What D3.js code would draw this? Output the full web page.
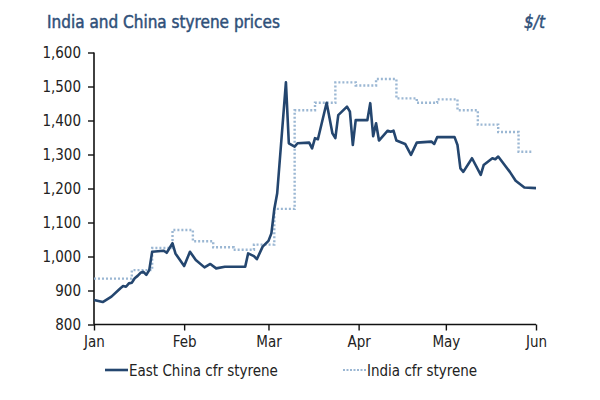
<!DOCTYPE html>
<html>
<head>
<meta charset="utf-8">
<script src="https://cdn.jsdelivr.net/npm/d3@7"></script>
<style>
  body { margin: 0; background: #fff; }
  text { font-family: "DejaVu Sans Condensed", "DejaVu Sans", sans-serif; }
</style>
</head>
<body>
<div id="chart"></div>
<script>
// East China cfr styrene, $/t
var chinaDates = ["2020-01-01","2020-01-04","2020-01-07","2020-01-10","2020-01-11","2020-01-12",
  "2020-01-13","2020-01-14","2020-01-15","2020-01-16","2020-01-17","2020-01-18","2020-01-19",
  "2020-01-20","2020-01-21","2020-01-25","2020-01-26","2020-01-28","2020-01-29","2020-02-01",
  "2020-02-03","2020-02-05","2020-02-08","2020-02-10","2020-02-12","2020-02-15","2020-02-22",
  "2020-02-23","2020-02-25","2020-02-26","2020-02-28","2020-03-01","2020-03-02","2020-03-03",
  "2020-03-04","2020-03-07","2020-03-08","2020-03-10","2020-03-11","2020-03-15","2020-03-16",
  "2020-03-17","2020-03-18","2020-03-21","2020-03-23","2020-03-24","2020-03-25","2020-03-28",
  "2020-03-29","2020-03-30","2020-03-31","2020-04-04","2020-04-05","2020-04-06","2020-04-07",
  "2020-04-08","2020-04-11","2020-04-12","2020-04-13","2020-04-14","2020-04-17","2020-04-19",
  "2020-04-21","2020-04-26","2020-04-27","2020-04-28","2020-05-04","2020-05-05","2020-05-06",
  "2020-05-07","2020-05-10","2020-05-13","2020-05-14","2020-05-17","2020-05-18","2020-05-19",
  "2020-05-23","2020-05-25","2020-05-28","2020-06-01"];
var chinaValues = [872, 866, 882, 906, 913, 911,
  921, 923, 936, 943, 952, 955, 946,
  960, 1014, 1017, 1011, 1039, 1009, 972,
  1014, 990, 968, 978, 965, 970, 970,
  1009, 1001, 992, 1029, 1046, 1068, 1139,
  1186, 1512, 1333, 1323, 1333, 1335, 1318,
  1348, 1345, 1452, 1362, 1348, 1416, 1441,
  1426, 1328, 1401, 1401, 1451, 1354, 1392,
  1341, 1370, 1367, 1370, 1341, 1331, 1299,
  1335, 1338, 1331, 1351, 1351, 1328, 1259,
  1249, 1289, 1240, 1269, 1289, 1286, 1294,
  1249, 1223, 1203, 1201];

// India cfr styrene, weekly assessments, $/t
var indiaDates = ["2020-01-01","2020-01-14","2020-01-21","2020-01-28","2020-02-04","2020-02-11",
  "2020-02-18","2020-02-25","2020-03-03","2020-03-10","2020-03-17","2020-03-24","2020-03-31",
  "2020-04-07","2020-04-14","2020-04-21","2020-04-28","2020-05-05","2020-05-12","2020-05-19",
  "2020-05-26","2020-05-31"];
var indiaValues = [935, 960, 1025, 1078, 1045, 1027,
  1020, 1035, 1140, 1430, 1452, 1512, 1503,
  1522, 1465, 1452, 1462, 1430, 1388, 1366,
  1308, 1308];

var yTicks = [800, 900, 1000, 1100, 1200, 1300, 1400, 1500, 1600];
var monthTicks = ["2020-01-01","2020-02-01","2020-03-01","2020-04-01","2020-05-01","2020-06-01"];
var seriesNames = ["East China cfr styrene", "India cfr styrene"];

var width = 600, height = 400;
var parse = d3.timeParse("%Y-%m-%d");

var svg = d3.select("#chart").append("svg")
  .attr("width", width)
  .attr("height", height);

var scX = d3.scaleTime()
  .domain([parse("2020-01-01"), parse("2020-06-01")])
  .range([94, 536]);
var scY = d3.scaleLinear()
  .domain([800, 1600])
  .range([324.5, 52.5]);

var china = chinaDates.map((d, i) => ({ date: parse(d), value: chinaValues[i] }));
var india = indiaDates.map((d, i) => ({ date: parse(d), value: indiaValues[i] }));

// title
svg.append("text")
  .attr("x", 47).attr("y", 28)
  .attr("font-size", 17)
  .attr("fill", "#2f5079").attr("stroke", "#2f5079").attr("stroke-width", 0.45)
  .text("India and China styrene prices");
svg.append("text")
  .attr("x", 545).attr("y", 28)
  .attr("text-anchor", "end")
  .attr("font-size", 17).attr("font-style", "italic")
  .attr("fill", "#2f5079").attr("stroke", "#2f5079").attr("stroke-width", 0.45)
  .text("$/t");

// axes
var yAxis = svg.append("g")
  .attr("transform", "translate(94,0)")
  .call(d3.axisLeft(scY).tickValues(yTicks).tickFormat(d3.format(",")).tickSize(6).tickPadding(7));
var xAxis = svg.append("g")
  .attr("transform", "translate(0,324.5)")
  .call(d3.axisBottom(scX).tickValues(monthTicks.map(parse))
    .tickFormat(d3.timeFormat("%b")).tickSize(6).tickPadding(6));

[yAxis, xAxis].forEach(function (ax) {
  ax.select(".domain").attr("stroke", "#111").attr("stroke-width", 1.6);
  ax.selectAll(".tick line").attr("stroke", "#111").attr("stroke-width", 1.4);
  ax.selectAll(".tick text").attr("font-size", 15).attr("fill", "#222")
    .attr("font-family", "'DejaVu Sans Condensed', 'DejaVu Sans', sans-serif");
});
yAxis.select(".domain").attr("d", "M0,52.5H0V324.5");
xAxis.select(".domain").attr("d", "M94,0V0H536");

// lines
var line = d3.line().x(d => scX(d.date)).y(d => scY(d.value));
var stepLine = d3.line().x(d => scX(d.date)).y(d => scY(d.value)).curve(d3.curveStepAfter);

svg.append("path")
  .datum(india)
  .attr("d", stepLine)
  .attr("fill", "none")
  .attr("stroke", "#9bb7d3")
  .attr("stroke-width", 2.4)
  .attr("stroke-dasharray", "2,2");

svg.append("path")
  .datum(china)
  .attr("d", line)
  .attr("fill", "none")
  .attr("stroke", "#24466f")
  .attr("stroke-width", 2.6)
  .attr("stroke-linejoin", "round");

// legend
var legend = svg.append("g");
var legX = [105, 343];
legend.selectAll("line")
  .data(seriesNames)
  .enter()
  .append("line")
  .attr("x1", (d, i) => legX[i]).attr("x2", (d, i) => legX[i] + 23)
  .attr("y1", 370).attr("y2", 370)
  .attr("stroke", (d, i) => i === 0 ? "#24466f" : "#9bb7d3")
  .attr("stroke-width", (d, i) => i === 0 ? 2.6 : 2)
  .attr("stroke-dasharray", (d, i) => i === 0 ? null : "2,1.5");
legend.selectAll("text")
  .data(seriesNames)
  .enter()
  .append("text")
  .attr("x", (d, i) => legX[i] + 24).attr("y", 375.5)
  .attr("font-size", 15).attr("fill", "#222")
  .text(d => d);
</script>
</body>
</html>
